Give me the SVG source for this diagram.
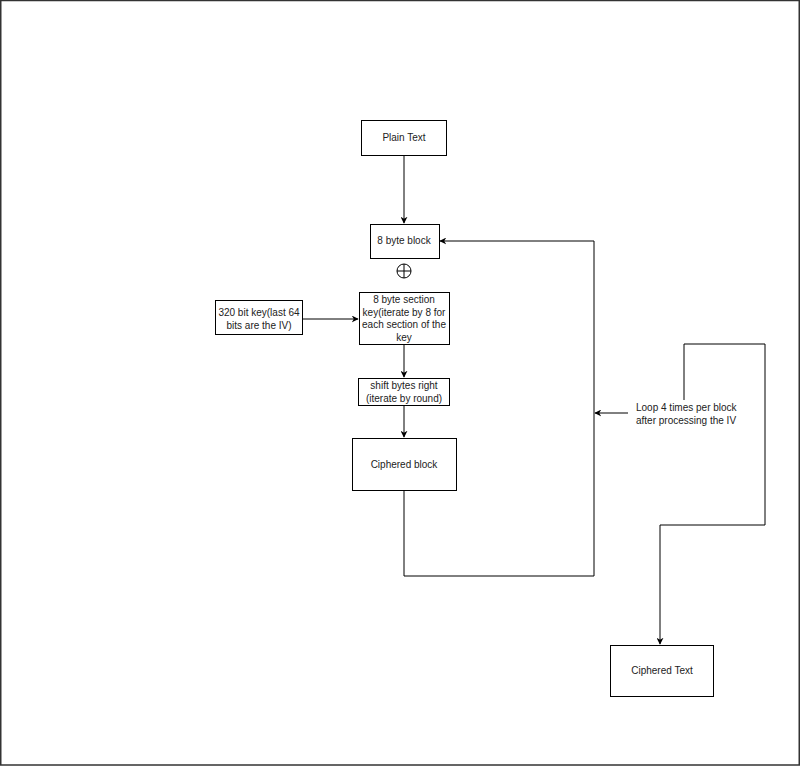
<svg xmlns="http://www.w3.org/2000/svg" width="800" height="766" viewBox="0 0 800 766">
<style>
.box{fill:#fff;stroke:#000;stroke-width:1}
.t{font-family:"Liberation Sans",Arial,sans-serif;font-size:10px;fill:#222;text-anchor:middle}
.tl{font-family:"Liberation Sans",Arial,sans-serif;font-size:10px;fill:#222}
.c{fill:none;stroke:#000;stroke-width:1}
</style>
<defs>
<marker id="ah" viewBox="0 0 10 10" refX="9" refY="5" markerWidth="7" markerHeight="7" orient="auto" markerUnits="userSpaceOnUse">
<path d="M0,0 L10,5 L0,10 L3,5 Z" fill="#000"/>
</marker>
</defs>
<rect x="0" y="0" width="800" height="766" fill="#fff"/>
<rect x="0.75" y="0.5" width="798.5" height="764.5" fill="none" stroke="#333" stroke-width="1.5"/>
<g id="connectors">
<path class="c" d="M404,155 L404,223" marker-end="url(#ah)"/>
<path class="c" d="M404,490 L404,576 L594,576 L594,241 L440,241" marker-end="url(#ah)"/>
<path class="c" d="M302,319 L358,319" marker-end="url(#ah)"/>
<path class="c" d="M404,344 L404,377" marker-end="url(#ah)"/>
<path class="c" d="M404,405 L404,437" marker-end="url(#ah)"/>
<path class="c" d="M628,413 L595,413" stroke="#888" marker-end="url(#ah)"/>
<path class="c" d="M684,400 L684,344 L765,344 L765,525 L660,525 L660,644" marker-end="url(#ah)"/>
</g>
<g id="plain-text">
<rect class="box" x="361.5" y="120.5" width="85" height="35"/>
<text class="t" x="404" y="141">Plain Text</text>
</g>
<g id="byte-block">
<rect class="box" x="370.5" y="224.5" width="69" height="34"/>
<text class="t" x="404" y="244">8 byte block</text>
</g>
<g id="xor">
<circle cx="404" cy="271" r="7" fill="#fff" stroke="#000" stroke-width="1"/>
<path d="M397,271 L411,271 M404,264 L404,278" stroke="#000" stroke-width="1"/>
</g>
<g id="section-key">
<rect class="box" x="359.5" y="292.5" width="90" height="52"/>
<text class="t" x="404" y="303">8 byte section</text>
<text class="t" x="404" y="316">key(iterate by 8 for</text>
<text class="t" x="404" y="328">each section of the</text>
<text class="t" x="404" y="341">key</text>
</g>
<g id="key320">
<rect class="box" x="215.5" y="300.5" width="87" height="34"/>
<text class="t" x="259" y="316">320 bit key(last 64</text>
<text class="t" x="259" y="329">bits are the IV)</text>
</g>
<g id="shift">
<rect class="box" x="358.5" y="378.5" width="91" height="27"/>
<text class="t" x="404" y="389">shift bytes right</text>
<text class="t" x="404" y="402">(iterate by round)</text>
</g>
<g id="ciphered-block">
<rect class="box" x="352.5" y="438.5" width="104" height="52"/>
<text class="t" x="404" y="468">Ciphered block</text>
</g>
<g id="loop-label">
<text class="tl" x="636" y="411">Loop 4 times per block</text>
<text class="tl" x="636" y="424">after processing the IV</text>
</g>
<g id="ciphered-text">
<rect class="box" x="610.5" y="645.5" width="103" height="51"/>
<text class="t" x="662" y="674">Ciphered Text</text>
</g>
</svg>
